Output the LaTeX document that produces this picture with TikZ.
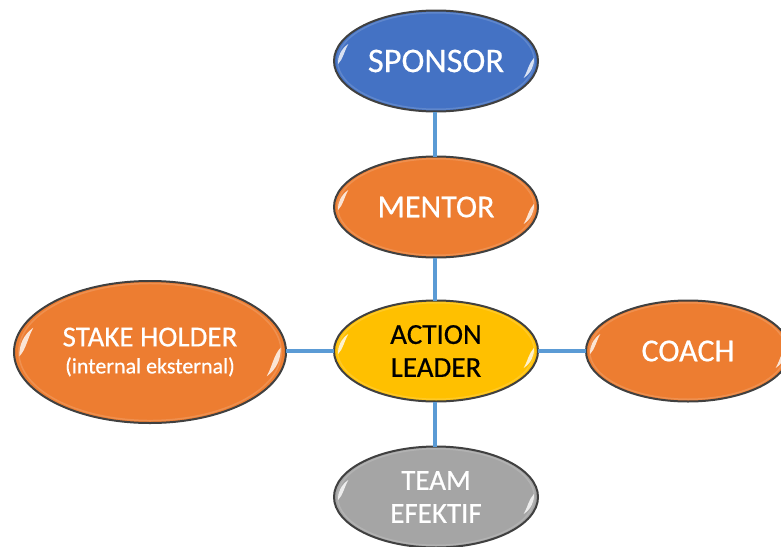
\documentclass[tikz,border=0pt]{standalone}
\usepackage{fontspec}
\setmainfont{Carlito}[RawFeature={embolden=0.5}]
\usetikzlibrary{shapes.geometric}
\definecolor{cblue}{HTML}{4472C4}
\definecolor{corange}{HTML}{ED7D31}
\definecolor{cgold}{HTML}{FFC000}
\definecolor{cgrey}{HTML}{A5A5A5}
\definecolor{cline}{HTML}{5B9BD5}
\definecolor{cedge}{HTML}{404040}
\tikzset{
  x=1pt,y=-1pt,
  oval/.style={ellipse,draw=cedge,line width=2pt,inner sep=0pt,outer sep=0pt,align=center,text=white},
  std/.style={oval,minimum width=204pt,minimum height=101pt},
  big/.style={oval,minimum width=272pt,minimum height=142pt},
  hugetext/.style={font=\fontsize{34.5}{38}\selectfont},
  largetext/.style={font=\fontsize{32}{36}\selectfont},
  midtext/.style={font=\fontsize{29}{34}\selectfont},
  link/.style={draw=cline,line width=3.5pt},
}
\newcommand{\gloss}[3]{%
  \begin{scope}[shift={(#1)},xscale=#2,yscale=#3]
    \draw[white,opacity=.15,line width=1.5pt] (0,0) circle[radius=.965];
    \fill[white,opacity=.8] (-.86,-.34) .. controls (-.93,-.24) and (-.965,-.1) .. (-.96,.06)
      .. controls (-.91,-.04) and (-.90,-.2) .. cycle;
    \fill[white,opacity=.8] (.86,.34) .. controls (.93,.24) and (.965,.1) .. (.96,-.06)
      .. controls (.91,.04) and (.90,.2) .. cycle;
  \end{scope}}
\begin{document}
\begin{tikzpicture}
\useasboundingbox (0,0) rectangle (781,546);
\clip (0,0) rectangle (781,546);
\node[std,fill=cblue,hugetext] (sponsor) at (436,61) {SPONSOR};
\node[std,fill=corange,largetext] (mentor) at (436,207) {MENTOR};
\node[std,fill=cgold,midtext,text=black] (action) at (436,351) {ACTION\\[-1pt]LEADER};
\node[std,fill=cgrey,midtext] (team) at (436,497) {TEAM\\[-1pt]EFEKTIF};
\node[std,fill=corange,largetext] (coach) at (688,351) {COACH};
\node[big,fill=corange,font=\fontsize{29}{30}\selectfont] (stake) at (150,352)
  {\raisebox{-2pt}{STAKE HOLDER}\\[-3pt]\raisebox{-2pt}{\fontsize{22}{26}\selectfont (internal eksternal)}};
\draw[link] ([xshift=-1pt]sponsor.south) -- ([xshift=-1pt]mentor.north);
\draw[link] ([xshift=-1pt]mentor.south) -- ([xshift=-1pt]action.north);
\draw[link] ([xshift=-1pt]action.south) -- ([xshift=-1pt]team.north);
\draw[link] (stake.east |- action.west) -- (action.west);
\draw[link] (action.east) -- (coach.west);
\gloss{436,61}{102}{50}
\gloss{436,207}{102}{50}
\gloss{436,351}{102}{50}
\gloss{436,497}{102}{50}
\gloss{688,351}{102}{50}
\gloss{150,352}{136}{71}
\end{tikzpicture}
\end{document}
